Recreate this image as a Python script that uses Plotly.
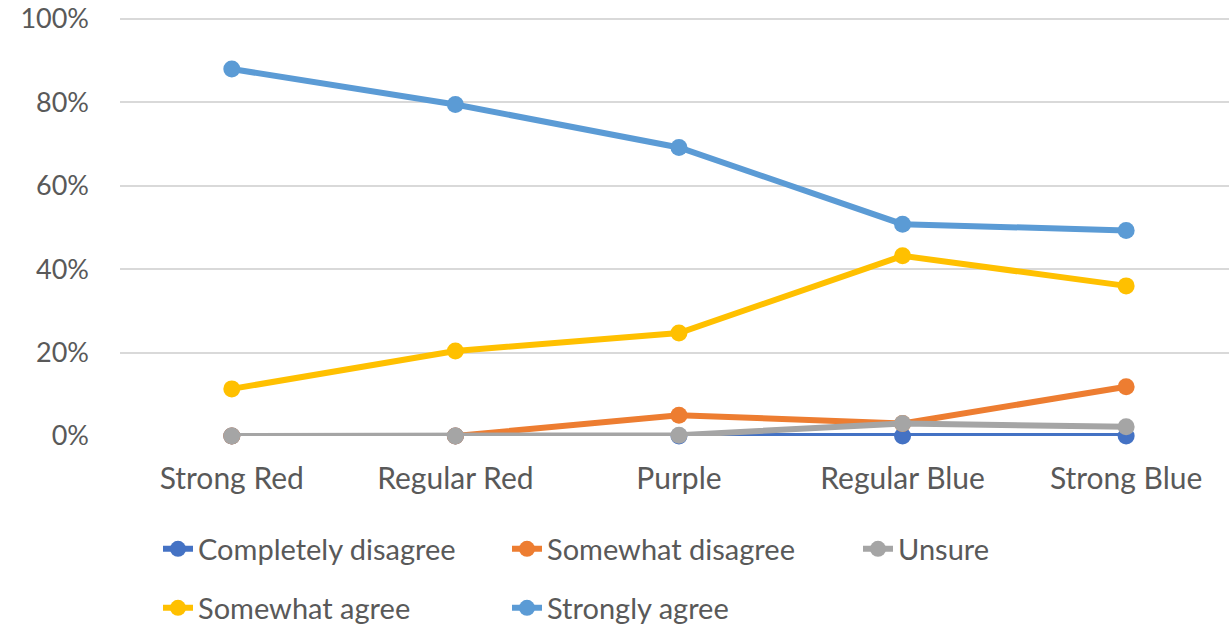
import plotly.graph_objects as go

categories = ["Strong Red", "Regular Red", "Purple", "Regular Blue", "Strong Blue"]
completely_disagree = [0.0, 0.0, 0.0, 0.0, 0.0]
somewhat_disagree = [0.0, 0.0, 0.05, 0.03, 0.118]
unsure = [0.0, 0.0, 0.002, 0.03, 0.022]
somewhat_agree = [0.113, 0.204, 0.247, 0.432, 0.36]
strongly_agree = [0.88, 0.795, 0.692, 0.508, 0.493]

series = [
    ("Completely disagree", completely_disagree, "#4472C4"),
    ("Somewhat disagree", somewhat_disagree, "#ED7D31"),
    ("Unsure", unsure, "#A5A5A5"),
    ("Somewhat agree", somewhat_agree, "#FFC000"),
    ("Strongly agree", strongly_agree, "#5B9BD5"),
]

FONT = "Lato"
fig = go.Figure()
legend_names = ["legend", "legend2", "legend3", "legend4", "legend5"]
for (name, vals, color), lg in zip(series, legend_names):
    fig.add_trace(go.Scatter(
        x=categories, y=vals, name=name, mode="lines+markers",
        line=dict(color=color, width=6),
        marker=dict(color=color, size=17),
        cliponaxis=False, legend=lg,
    ))

YMAX = 1.012
plot_bot = 436
plot_top = 14  # so that 100% lands at y=19
W_PLOT = 1109.0
def px(x):
    return (x - 120) / W_PLOT
def py(y):
    return (plot_bot - y) / (plot_bot - plot_top)

legend_pos = [(158, 549), (507, 549), (858, 549), (158, 608), (507, 608)]

layout_legends = {}
for lg, (lx, ly) in zip(legend_names, legend_pos):
    layout_legends[lg] = dict(
        x=px(lx), y=py(ly), xanchor="left", yanchor="middle",
        orientation="h", font=dict(family=FONT, size=29, color="#595959"),
        bgcolor="rgba(0,0,0,0)", itemclick=False,
    )

fig.update_layout(
    width=1229, height=626,
    margin=dict(l=120, r=0, t=plot_top, b=626 - plot_bot, autoexpand=False),
    paper_bgcolor="white", plot_bgcolor="white",
    font=dict(family=FONT, size=27, color="#595959"),
    showlegend=True,
    xaxis=dict(
        type="category", range=[-0.5, 4.46], showgrid=False,
        showline=False, ticks="", ticklabelstandoff=22, automargin=False,
        tickfont=dict(family=FONT, size=30, color="#595959"),
    ),
    yaxis=dict(
        range=[0, YMAX], tickvals=[0, 0.2, 0.4, 0.6, 0.8, 1.0],
        tickformat=".0%", showgrid=True, gridcolor="#D9D9D9", gridwidth=2,
        zeroline=False, showline=False, ticks="", ticklabelstandoff=30,
        automargin=False, ticklabeloverflow="allow",
        tickfont=dict(family=FONT, size=27, color="#595959"),
    ),
    **layout_legends,
)

fig.write_html(
    "out.html",
    config={"displayModeBar": False},
    post_script="document.body.style.margin='0px';document.body.style.overflow='hidden';",
)
